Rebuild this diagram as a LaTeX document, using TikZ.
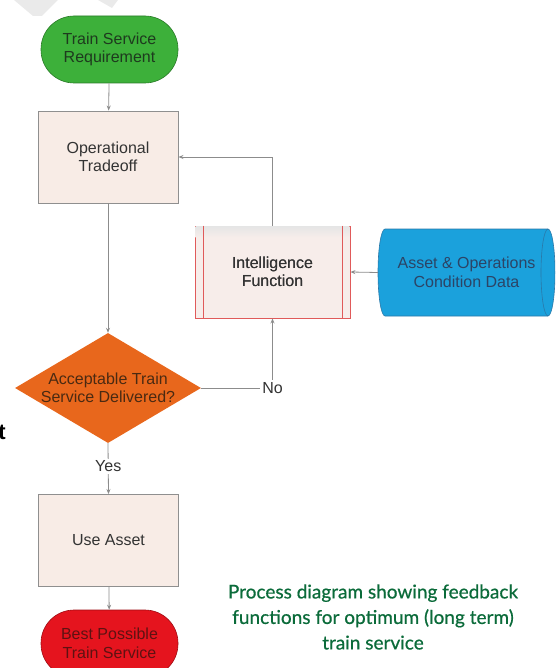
\documentclass[tikz,border=0pt]{standalone}
\usepackage{fontspec}
\setmainfont{Liberation Sans}
\newfontfamily\capfont[FakeBold=0.6]{Lato}
\usetikzlibrary{arrows.meta,shapes.geometric}
\definecolor{linegray}{HTML}{8C8C8C}
\definecolor{boxborder}{HTML}{8F8F8F}
\definecolor{boxfill}{HTML}{F8ECE6}
\definecolor{textgray}{HTML}{333333}
\definecolor{termgreen}{HTML}{3DB03A}
\definecolor{termgreentext}{HTML}{1E3A1E}
\definecolor{termred}{HTML}{E5141E}
\definecolor{termredtext}{HTML}{5E1212}
\definecolor{diaorange}{HTML}{E8671C}
\definecolor{diatext}{HTML}{4A2A12}
\definecolor{intborder}{HTML}{E05A5A}
\definecolor{intfill}{HTML}{F7EDEA}
\definecolor{cylfill}{HTML}{1BA1DC}
\definecolor{cylborder}{HTML}{2A78A8}
\definecolor{cyltext}{HTML}{2C4466}
\definecolor{capgreen}{HTML}{0B6B3A}
\definecolor{wmgray}{HTML}{EAEAEA}
\begin{document}
\begin{tikzpicture}[x=1pt,y=-1pt,
  lab/.style={font=\fontsize{16}{18.5}\selectfont, align=center},
  procbox/.style={lab, draw=boxborder, fill=boxfill, line width=0.9pt,
    minimum width=140pt, minimum height=92pt, text=textgray},
  term/.style={lab, rounded corners=33pt, minimum width=137pt, minimum height=67pt},
  conn/.style={draw=linegray, line width=0.8pt, -{Stealth[length=5pt,width=4pt]}},
  lbl/.style={lab, fill=white, inner sep=2pt, text=textgray}]
\useasboundingbox (0,0) rectangle (555,668);
\begin{scope}
\clip (0,0) rectangle (555,668);
% watermark fragments
\fill[wmgray] (14,0) -- (58,0) -- (42,16) -- (33,16) -- cycle;
\fill[wmgray] (98,0) -- (118,0) -- (112,8) -- cycle;
% terminals
\node[term, fill=termgreen, draw=termgreen!70!black, line width=0.6pt, text=termgreentext] (start) at (109.5,49.5) {Train Service\\Requirement};
\node[procbox] (op) at (108,157) {Operational\\Tradeoff};
\node[diamond, aspect=1.69, inner sep=0pt, minimum width=186pt, minimum height=110pt, fill=diaorange] (dia) at (108,388) {};
\node[lab, text=diatext] (diatxt) at (dia.center) {Acceptable Train\\Service Delivered?};
% intelligence function (predefined process)
\node[lab, draw=intborder, fill=intfill, line width=0.9pt, minimum width=155pt, minimum height=92pt, text=textgray] (int) at (272.5,272) {Intelligence\\Function};
\fill[top color=black!10, bottom color=intfill] ([xshift=1pt,yshift=-1pt]int.north west) rectangle ([xshift=-1pt,yshift=-12pt]int.north east);
\node[lab, text=textgray] at (int.center) {Intelligence\\Function};
\draw[intborder, line width=0.9pt] ([xshift=9pt]int.north west) -- ([xshift=9pt]int.south west);
\draw[intborder, line width=0.9pt] ([xshift=-8pt]int.north east) -- ([xshift=-8pt]int.south east);
% cylinder
\filldraw[fill=cylfill, draw=cylborder, line width=0.6pt]
  (385,229) -- (548,229) .. controls (551.9,229) and (555,248.5) .. (555,272.5)
  .. controls (555,296.5) and (551.9,316) .. (548,316) -- (385,316)
  .. controls (381.1,316) and (378,296.5) .. (378,272.5)
  .. controls (378,248.5) and (381.1,229) .. (385,229) -- cycle;
\draw[cylborder, line width=0.6pt] (548,229) .. controls (544.1,229) and (541,248.5) .. (541,272.5)
  .. controls (541,296.5) and (544.1,316) .. (548,316);
\node[lab, text=cyltext, minimum width=177pt, minimum height=87pt] (cyl) at (466.5,272.5) {Asset \& Operations\\Condition Data};
\node[procbox] (use) at (108.5,540.5) {Use Asset};
\node[term, fill=termred, draw=termred!70!black, line width=0.6pt, text=termredtext] (end) at (109.5,643.5) {Best Possible\\Train Service};
% connectors
\draw[conn] (start) -- (op);
\draw[conn] (op) -- (dia.north);
\draw[conn] (dia.east) -| node[lbl, pos=0.5] {No} (int.south);
\draw[conn] (int.north) |- (op.east);
\draw[conn] (cyl.west) -- (int.east);
\draw[conn] (dia.south) -- node[lbl, pos=0.45] {Yes} (use.north);
\draw[conn] (use) -- (end);
% fragment and caption
\node[anchor=base east, inner sep=0pt, font=\bfseries\fontsize{22}{22}\selectfont] (tfrag) at (6,439) {t};
\node[align=center, font=\capfont\fontsize{19}{25.5}\selectfont, text=capgreen] (caption) at (373,617) {Process diagram showing feedback\\functions for optimum (long term)\\train service};
\end{scope}
\end{tikzpicture}
\end{document}
